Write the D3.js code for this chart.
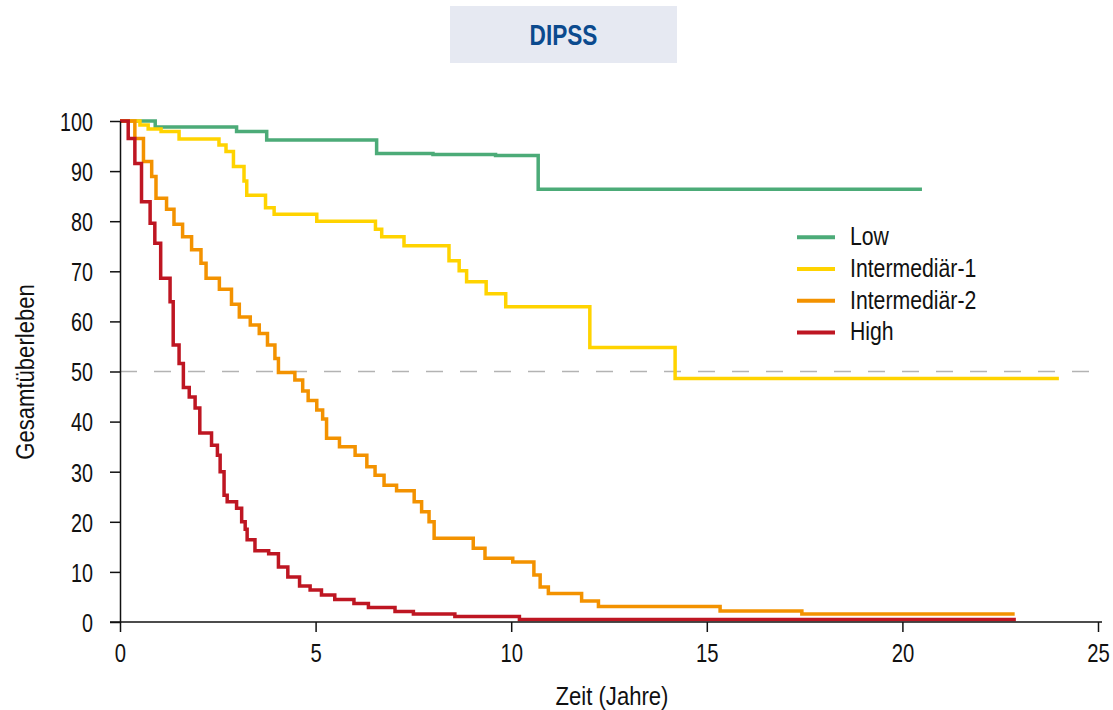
<!DOCTYPE html>
<html>
<head>
<meta charset="utf-8">
<script src="https://cdn.jsdelivr.net/npm/d3@7"></script>
<style>
  body { margin: 0; background: #fff; }
  svg text { font-family: "Liberation Sans", Arial, sans-serif; fill: #111; }
  .narrow { transform-box: fill-box; }
</style>
</head>
<body>
<svg id="chart" width="1113" height="710"></svg>
<script>
// survival data (time in years, % surviving)
var lowT = [0, 0.9, 2.98, 3.75, 6.56, 8.0, 9.6, 10.69, 20.5];
var lowS = [100, 98.8, 97.9, 96.2, 93.5, 93.3, 93.1, 86.4, 86.4];

var int1T = [0, 0.51, 0.72, 1.05, 1.51, 2.53, 2.71, 2.90, 3.17, 3.24, 3.72, 3.94, 5.03, 6.53, 6.69, 7.26, 8.41, 8.67, 8.86, 9.36, 9.86, 12.01, 14.19, 24.0];
var int1S = [100, 99.2, 98.4, 97.9, 96.4, 95.2, 93.9, 90.9, 88.0, 85.2, 82.7, 81.4, 80.0, 78.4, 76.9, 75.1, 72.1, 70.1, 67.9, 65.5, 62.9, 54.8, 48.6, 48.6];

var int2T = [0, 0.38, 0.60, 0.81, 0.92, 1.19, 1.38, 1.60, 1.83, 2.07, 2.20, 2.54, 2.85, 3.05, 3.33, 3.56, 3.77, 3.96, 4.05, 4.47, 4.67, 4.81, 5.03, 5.18, 5.28, 5.61, 6.01, 6.31, 6.52, 6.75, 7.07, 7.52, 7.71, 7.90, 8.03, 9.03, 9.33, 10.04, 10.58, 10.74, 10.95, 11.80, 12.23, 15.34, 17.43, 22.87];
var int2S = [100, 96.5, 91.9, 88.9, 84.6, 82.4, 79.4, 76.9, 74.3, 71.6, 68.6, 66.4, 63.4, 60.9, 59.3, 57.6, 55.3, 52.6, 49.8, 48.3, 46.1, 44.2, 42.3, 40.5, 36.7, 35.0, 33.3, 31.0, 29.3, 27.3, 26.2, 24.0, 22.0, 20.0, 16.7, 14.7, 12.7, 12.0, 9.4, 7.0, 5.7, 4.2, 3.1, 2.2, 1.6, 1.6];

var highT = [0, 0.21, 0.38, 0.55, 0.77, 0.89, 1.04, 1.28, 1.36, 1.51, 1.62, 1.77, 1.92, 2.04, 2.34, 2.49, 2.56, 2.66, 2.74, 2.98, 3.11, 3.20, 3.25, 3.45, 3.80, 4.05, 4.29, 4.59, 4.86, 5.15, 5.49, 5.98, 6.35, 7.03, 7.50, 8.56, 10.21, 22.9];
var highS = [100, 96.5, 91.5, 83.9, 79.6, 75.6, 68.6, 63.9, 55.3, 51.6, 46.8, 44.9, 42.7, 37.7, 35.3, 33.3, 30.0, 25.3, 24.0, 22.7, 20.0, 18.5, 16.4, 14.2, 13.6, 11.0, 9.0, 7.2, 6.4, 5.4, 4.5, 3.7, 2.9, 2.1, 1.6, 1.1, 0.5, 0.5];

var groupNames = ["Low", "Intermediär-1", "Intermediär-2", "High"];
var groupColors = ["#4cab78", "#ffd300", "#f39200", "#be1622"];
var xTicks = [0, 5, 10, 15, 20, 25];
var yTicks = [0, 10, 20, 30, 40, 50, 60, 70, 80, 90, 100];
var medianLine = [50];

var svg = d3.select("#chart");

var x = d3.scaleLinear().domain([0, 25]).range([120, 1098]);
var y = d3.scaleLinear().domain([0, 100]).range([622, 121]);

// squeeze text horizontally, the original uses a condensed face
function narrow(sel, k, origin) {
	sel.classed("narrow", true)
		.style("transform-origin", origin)
		.style("transform", "scaleX(" + k + ")");
}

// title box
svg.append("rect")
	.attr("x", 450).attr("y", 6)
	.attr("width", 227).attr("height", 57)
	.attr("fill", "#e6e9f2");
svg.append("text")
	.attr("x", 563.5).attr("y", 45.5)
	.attr("text-anchor", "middle")
	.style("font-size", "29px")
	.style("font-weight", "bold")
	.style("fill", "#0b4a8e")
	.text("DIPSS")
	.call(narrow, 0.78, "center");

// 50% reference
svg.selectAll(".median").data(medianLine).enter().append("line")
	.attr("x1", x(0)).attr("x2", x(25))
	.attr("y1", function(d) { return y(d); })
	.attr("y2", function(d) { return y(d); })
	.attr("stroke", "#b3b3b3")
	.attr("stroke-width", 1.5)
	.attr("stroke-dasharray", "17,17");

// curves
var series = [
	d3.zip(lowT, lowS),
	d3.zip(int1T, int1S),
	d3.zip(int2T, int2S),
	d3.zip(highT, highS)
];

var line = d3.line()
	.x(function(d) { return x(d[0]); })
	.y(function(d) { return y(d[1]); })
	.curve(d3.curveStepAfter);

svg.selectAll(".curve").data(series).enter().append("path")
	.attr("class", "curve")
	.attr("d", line)
	.attr("fill", "none")
	.attr("stroke", function(d, i) { return groupColors[i]; })
	.attr("stroke-width", 3.5);

// axes
var xAxis = d3.axisBottom(x).tickValues(xTicks).tickSize(10).tickSizeOuter(0);
var yAxis = d3.axisLeft(y).tickValues(yTicks).tickSize(10).tickPadding(17).tickSizeOuter(0);

var gx = svg.append("g").attr("transform", "translate(0," + y(0) + ")").call(xAxis);
var gy = svg.append("g").attr("transform", "translate(" + x(0) + ",0)").call(yAxis);

gx.select(".domain").attr("d", "M" + (x(0) - 10) + ",0H" + (x(25) + 4));
[gx, gy].forEach(function(g) {
	g.selectAll(".domain, line").attr("stroke", "#111").attr("stroke-width", 1.5);
	g.selectAll("text").style("font-size", "26px").style("font-family", null).attr("fill", "#111");
});
gx.selectAll("text").attr("y", 40).attr("dy", 0).call(narrow, 0.78, "center");
gy.selectAll("text").attr("dy", "0.36em").call(narrow, 0.76, "right center");

// axis titles
svg.append("text")
	.attr("x", 612).attr("y", 705)
	.attr("text-anchor", "middle")
	.style("font-size", "26px")
	.text("Zeit (Jahre)")
	.call(narrow, 0.85, "center");
svg.append("text")
	.attr("transform", "translate(34,372) rotate(-90)")
	.attr("text-anchor", "middle")
	.style("font-size", "26px")
	.text("Gesamtüberleben")
	.call(function(sel) {
		// rotated: squeeze along the text direction
		sel.attr("transform", "translate(34,372) rotate(-90) scale(0.85,1)");
	});

// legend
var legend = svg.selectAll(".legend").data(groupNames).enter().append("g")
	.attr("transform", function(d, i) { return "translate(797," + (237.3 + i * 31.7) + ")"; });
legend.append("line")
	.attr("x1", 0).attr("x2", 38)
	.attr("stroke", function(d, i) { return groupColors[i]; })
	.attr("stroke-width", 4);
legend.append("text")
	.attr("x", 53).attr("y", 8)
	.style("font-size", "25px")
	.text(function(d) { return d; })
	.call(narrow, 0.85, "left center");
</script>
</body>
</html>
